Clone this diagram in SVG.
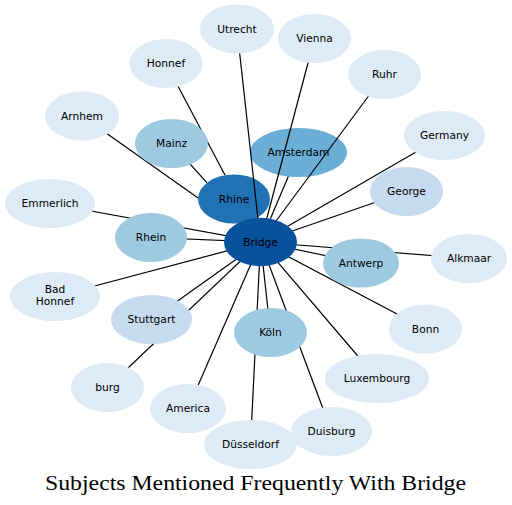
<svg xmlns="http://www.w3.org/2000/svg" width="512" height="505" viewBox="0 0 512 505">
<style>
.n text{font-family:"DejaVu Sans",sans-serif;font-size:10.67px;fill:#000;text-anchor:middle}
.c1{fill:#deebf7}.c2{fill:#c6dbef}.c3{fill:#9ecae1}.c4{fill:#6baed6}.c5{fill:#2171b5}.c6{fill:#08519c}
#edges line{stroke:#000;stroke-width:1.2}
.title{font-family:"Liberation Serif",serif;font-size:20px;fill:#000;text-anchor:middle}
</style>
<rect width="512" height="505" fill="#fff"/>
<g id="n-rhine" class="n"><ellipse class="c5" cx="234" cy="199" rx="36" ry="24.5"/><text x="234" y="202.8">Rhine</text></g>
<g id="n-amsterdam" class="n"><ellipse class="c4" cx="298.5" cy="152.5" rx="48.5" ry="24.5"/><text x="298.5" y="156.3">Amsterdam</text></g>
<g id="edges">
<line x1="237" y1="29" x2="260.5" y2="242"/>
<line x1="314.5" y1="38.5" x2="260.5" y2="242"/>
<line x1="166" y1="63.5" x2="225.1" y2="175.3"/>
<line x1="384.5" y1="74.5" x2="260.5" y2="242"/>
<line x1="82" y1="116" x2="198.1" y2="198"/>
<line x1="171.5" y1="143.5" x2="207.1" y2="182.9"/>
<line x1="288.3" y1="176.5" x2="260.5" y2="242"/>
<line x1="444.5" y1="135.5" x2="260.5" y2="242"/>
<line x1="406.5" y1="191.5" x2="260.5" y2="242"/>
<line x1="50" y1="203.5" x2="260.5" y2="242"/>
<line x1="151" y1="237.5" x2="260.5" y2="242"/>
<line x1="361" y1="263" x2="260.5" y2="242"/>
<line x1="469" y1="258.5" x2="260.5" y2="242"/>
<line x1="55" y1="296.5" x2="260.5" y2="242"/>
<line x1="151.5" y1="319.5" x2="260.5" y2="242"/>
<line x1="270.5" y1="332.5" x2="260.5" y2="242"/>
<line x1="425.5" y1="329" x2="260.5" y2="242"/>
<line x1="107.5" y1="387.5" x2="260.5" y2="242"/>
<line x1="377" y1="378.5" x2="260.5" y2="242"/>
<line x1="188" y1="408.5" x2="260.5" y2="242"/>
<line x1="250.5" y1="444.5" x2="260.5" y2="242"/>
<line x1="331.5" y1="431.5" x2="260.5" y2="242"/>
</g>
<g id="n-utrecht" class="n"><ellipse class="c1" cx="237" cy="29" rx="37" ry="24.5"/><text x="237" y="32.8">Utrecht</text></g>
<g id="n-vienna" class="n"><ellipse class="c1" cx="314.5" cy="38.5" rx="36.5" ry="24.5"/><text x="314.5" y="42.3">Vienna</text></g>
<g id="n-honnef" class="n"><ellipse class="c1" cx="166" cy="63.5" rx="36.5" ry="24.5"/><text x="166" y="67.3">Honnef</text></g>
<g id="n-ruhr" class="n"><ellipse class="c1" cx="384.5" cy="74.5" rx="36.5" ry="24.5"/><text x="384.5" y="78.3">Ruhr</text></g>
<g id="n-arnhem" class="n"><ellipse class="c1" cx="82" cy="116" rx="37" ry="24.5"/><text x="82" y="119.8">Arnhem</text></g>
<g id="n-mainz" class="n"><ellipse class="c3" cx="171.5" cy="143.5" rx="36.5" ry="24.5"/><text x="171.5" y="147.3">Mainz</text></g>
<g id="n-germany" class="n"><ellipse class="c1" cx="444.5" cy="135.5" rx="40.5" ry="24.5"/><text x="444.5" y="139.3">Germany</text></g>
<g id="n-george" class="n"><ellipse class="c2" cx="406.5" cy="191.5" rx="36.5" ry="24.5"/><text x="406.5" y="195.3">George</text></g>
<g id="n-emmerlich" class="n"><ellipse class="c1" cx="50" cy="203.5" rx="45" ry="24.5"/><text x="50" y="207.3">Emmerlich</text></g>
<g id="n-rhein" class="n"><ellipse class="c3" cx="151" cy="237.5" rx="36" ry="24.5"/><text x="151" y="241.3">Rhein</text></g>
<g id="n-bridge" class="n"><ellipse class="c6" cx="260.5" cy="242" rx="36.5" ry="24.2"/><text x="260.5" y="245.8">Bridge</text></g>
<g id="n-antwerp" class="n"><ellipse class="c3" cx="361" cy="263" rx="38" ry="24.5"/><text x="361" y="266.8">Antwerp</text></g>
<g id="n-alkmaar" class="n"><ellipse class="c1" cx="469" cy="258.5" rx="38" ry="24.5"/><text x="469" y="262.3">Alkmaar</text></g>
<g id="n-badhonnef" class="n"><ellipse class="c1" cx="55" cy="296.5" rx="45" ry="24.5"/><text x="55" y="292.6">Bad</text><text x="55" y="304.8">Honnef</text></g>
<g id="n-stuttgart" class="n"><ellipse class="c2" cx="151.5" cy="319.5" rx="40.5" ry="24.5"/><text x="151.5" y="323.3">Stuttgart</text></g>
<g id="n-koln" class="n"><ellipse class="c3" cx="270.5" cy="332.5" rx="36.5" ry="24.5"/><text x="270.5" y="336.3">Köln</text></g>
<g id="n-bonn" class="n"><ellipse class="c1" cx="425.5" cy="329" rx="36.5" ry="24.5"/><text x="425.5" y="332.8">Bonn</text></g>
<g id="n-burg" class="n"><ellipse class="c1" cx="107.5" cy="387.5" rx="36.5" ry="24.5"/><text x="107.5" y="391.3">burg</text></g>
<g id="n-luxembourg" class="n"><ellipse class="c1" cx="377" cy="378.5" rx="52" ry="24.5"/><text x="377" y="382.3">Luxembourg</text></g>
<g id="n-america" class="n"><ellipse class="c1" cx="188" cy="408.5" rx="38" ry="24.5"/><text x="188" y="412.3">America</text></g>
<g id="n-dusseldorf" class="n"><ellipse class="c1" cx="250.5" cy="444.5" rx="46.5" ry="24.5"/><text x="250.5" y="448.3">Düsseldorf</text></g>
<g id="n-duisburg" class="n"><ellipse class="c1" cx="331.5" cy="431.5" rx="40.5" ry="24.5"/><text x="331.5" y="435.3">Duisburg</text></g>
<text class="title" x="255.5" y="489.5" textLength="421" lengthAdjust="spacingAndGlyphs">Subjects Mentioned Frequently With Bridge</text>
</svg>
